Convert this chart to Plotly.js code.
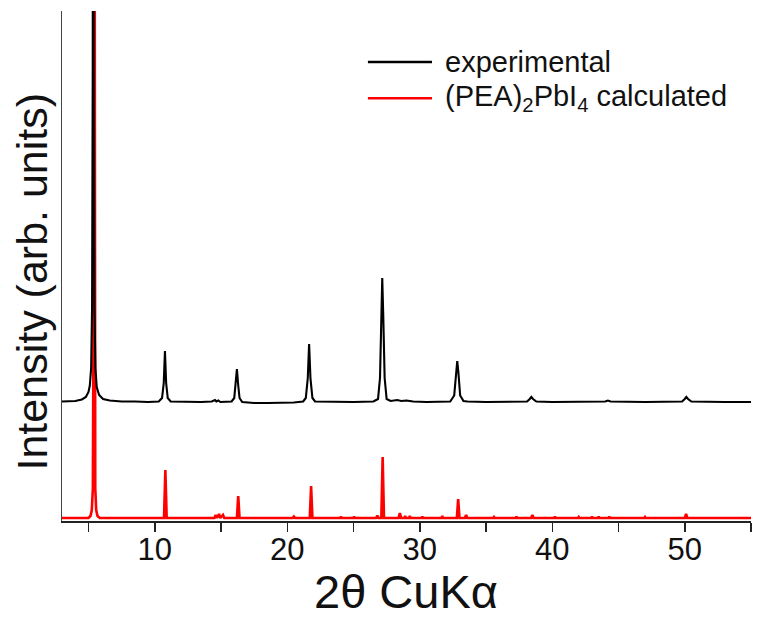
<!DOCTYPE html>
<html>
<head>
<meta charset="utf-8">
<script src="https://cdn.plot.ly/plotly-3.0.1.min.js"></script>
<style>html,body{margin:0;padding:0;background:#fff;}#chart{width:764px;height:624px;}</style>
</head>
<body>
<div id="chart"></div>
<script>
// experimental pattern (2θ, intensity in arb. units)
const xExp = [3.0,3.5,4.0,4.5,4.8,5.0,5.1,5.2,5.27,5.32,5.36,5.40,5.45,5.52,5.62,5.8,6.1,6.6,7.5,8.5,9.5,
  10.3,10.55,10.68,10.77,10.86,10.98,11.2,12.5,13.5,14.3,14.55,14.65,14.8,14.95,15.8,16.0,16.1,16.2,16.3,16.4,16.6,
  17.5,18.5,19.5,20.5,21.2,21.4,21.55,21.65,21.75,21.9,22.1,23.5,25,26.5,26.85,27.0,27.1,27.17,27.25,27.35,27.5,27.8,
  28.3,28.6,29,29.5,30.5,32.3,32.6,32.75,32.83,32.92,33.05,33.3,33.6,35,38.1,38.3,38.42,38.55,38.8,40,42,44.0,44.2,44.4,
  47,49.8,50.0,50.12,50.25,50.5,53,55];
const yExp = [233,233,234,237,242,252,265,300,420,900,2600,900,420,300,262,246,238,235,233,233,232,
  233,240,270,334,270,240,233,232,232,233,236,233,235,232,233,240,265,298,265,240,232,
  230,230,230,231,233,240,280,348,280,240,233,232,232,233,238,280,400,480,400,280,238,234,
  236,234,235,233,232,233,245,290,314,290,245,234,233,232,233,238,242,238,233,232,232,233,235,233,
  232,233,238,242,238,233,232,232];

// calculated pattern (PEA)2PbI4
const xCalc = [3.0,5.0,5.15,5.25,5.33,5.38,5.42,5.46,5.51,5.58,5.68,5.85,10.7,10.8,10.9,14.5,14.6,14.7,14.85,14.95,15.15,15.25,
  16.2,16.3,16.4,20.4,20.5,20.6,21.7,21.8,21.9,24.0,24.05,24.1,25.0,25.05,25.1,26.7,26.8,26.9,27.1,27.2,27.3,
  28.4,28.5,28.6,28.85,28.9,28.95,29.2,29.25,29.3,30.15,30.2,30.25,31.65,31.7,31.75,32.8,32.9,33.0,33.4,33.5,33.6,
  35.55,35.6,35.65,37.25,37.3,37.35,38.4,38.5,38.6,40.15,40.2,40.25,41.95,42.0,42.05,42.95,43.0,43.05,43.45,43.5,43.55,
  44.25,44.3,44.35,46.95,47.0,47.05,50.0,50.1,50.2,55];
const yCalc = [0,0,4,16,60,400,2400,400,60,16,4,0,0,96,0,0,6,0,8,0,6,0,
  0,44,0,0,3,0,0,64,0,0,3,0,0,3,0,0,5,0,0,122,0,
  0,10,0,0,4,0,0,4,0,0,3,0,0,4,0,0,38,0,0,6,0,
  0,2,0,0,3,0,0,6,0,0,3,0,0,2,0,0,3,0,0,3,0,
  0,3,0,0,2,0,0,8,0,0];

const tickVals = [5,10,15,20,25,30,35,40,45,50,55];
const tickText = ['','10','','20','','30','','40','','50',''];

const seriesNames = ['experimental', '(PEA)<sub>2</sub>PbI<sub>4</sub> calculated'];
const seriesColors = ['#000000', '#ff0000'];

const FONT = 'Liberation Sans, Arial, Helvetica, sans-serif';

const traces = [
  {x: xCalc, y: yCalc, type: 'scatter', mode: 'lines', name: seriesNames[1],
   line: {color: seriesColors[1], width: 2.6}, showlegend: false},
  {x: xExp, y: yExp, type: 'scatter', mode: 'lines', name: seriesNames[0],
   line: {color: seriesColors[0], width: 2.1}, showlegend: false}
];

// legend drawn as paper-anchored line samples + labels
const legRowY = [0.90, 0.829];
const shapes = [], annotations = [];
for (let i = 0; i < 2; i++) {
  shapes.push({type: 'line', xref: 'paper', yref: 'paper', x0: 0.444, x1: 0.537, y0: legRowY[i], y1: legRowY[i],
    line: {color: seriesColors[i], width: 2.5}});
  annotations.push({xref: 'paper', yref: 'paper', x: 0.553, y: legRowY[i], xanchor: 'left', yanchor: 'middle',
    text: seriesNames[i], showarrow: false, font: {family: FONT, size: 29, color: '#111111'}});
}
// axis titles
annotations.push({xref: 'paper', yref: 'paper', x: -0.044, y: 0.469, xanchor: 'center', yanchor: 'middle',
  text: 'Intensity (arb. units)', textangle: -90, showarrow: false,
  font: {family: FONT, size: 43, color: '#111111'}});
annotations.push({xref: 'paper', yref: 'paper', x: 0.499, y: -0.139, xanchor: 'center', yanchor: 'middle',
  text: '2θ CuKα', showarrow: false,
  font: {family: FONT, size: 47, color: '#111111'}});

const layout = {
  width: 764, height: 624,
  margin: {l: 62, r: 13, t: 11, b: 103},
  paper_bgcolor: '#ffffff', plot_bgcolor: '#ffffff',
  font: {family: FONT, color: '#111111'},
  showlegend: false,
  shapes: shapes, annotations: annotations,
  xaxis: {
    range: [3, 55], showgrid: false, zeroline: false,
    showline: true, linecolor: '#222222', linewidth: 1.5,
    ticks: 'outside', ticklen: 9, tickwidth: 1.5, tickcolor: '#222222',
    tickmode: 'array', tickvals: tickVals, ticktext: tickText,
    ticklabelstandoff: -9,
    tickfont: {family: FONT, size: 31, color: '#111111'}
  },
  yaxis: {
    range: [-6, 1014], showgrid: false, zeroline: false,
    showline: true, linecolor: '#444444', linewidth: 1.5,
    ticks: '', showticklabels: false
  }
};

Plotly.newPlot('chart', traces, layout, {displayModeBar: false, staticPlot: true});
</script>
</body>
</html>
